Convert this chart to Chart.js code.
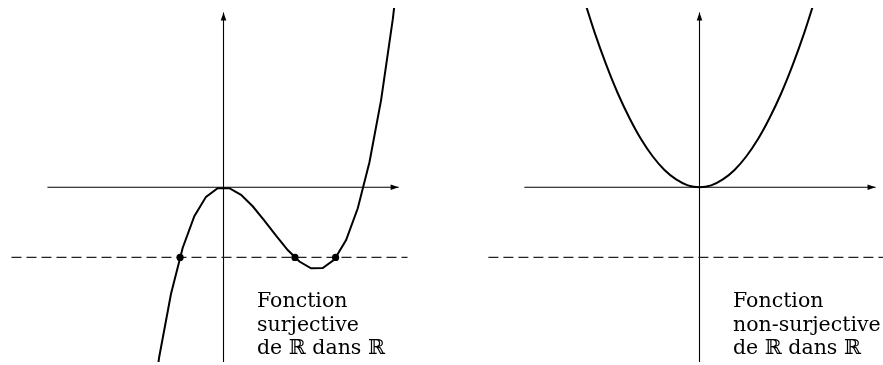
<!DOCTYPE html>
<html>
<head>
<meta charset="utf-8">
<script src="https://cdn.jsdelivr.net/npm/chart.js@4.4.0/dist/chart.umd.min.js"></script>
<style>
  body { margin: 0; background: #fff; width: 883px; height: 365px; overflow: hidden; position: relative; }
  canvas { position: absolute; top: 0; }
  #left { left: 0; }
  #right { left: 441px; }
  .lbl { position: absolute; font-family: "DejaVu Serif", serif; font-size: 20.5px; line-height: 23.5px; color: #000; white-space: nowrap; }
</style>
</head>
<body>
<canvas id="left" width="441" height="365"></canvas>
<canvas id="right" width="442" height="365"></canvas>
<div class="lbl" style="left:257px; top:289px">Fonction<br>surjective<br>de ℝ dans ℝ</div>
<div class="lbl" style="left:733px; top:289px">Fonction<br>non-surjective<br>de ℝ dans ℝ</div>
<script>
// cubic (left panel)
const cubicX = [-1.625, -1.375, -1.125, -0.875, -0.625, -0.375, -0.125, 0.125, 0.375, 0.625, 0.875, 1.125,
                1.375, 1.625, 1.875, 2.125, 2.375, 2.625, 2.875, 3.125, 3.375, 3.625, 3.875];
const cubicY = [-12.21, -8.27, -5.22, -2.97, -1.42, -0.47, -0.05, -0.05, -0.37, -0.93, -1.63, -2.37,
                -3.07, -3.63, -3.96, -3.95, -3.53, -2.58, -1.03, 1.22, 4.27, 8.21, 13.14];
const levelY = -3.43;
const dotX = [-0.93, 1.53, 2.40];

// parabola (right panel)
const paraX = [-2.5, -2.25, -2, -1.75, -1.5, -1.25, -1, -0.75, -0.5, -0.25, 0,
               0.25, 0.5, 0.75, 1, 1.25, 1.5, 1.75, 2, 2.25, 2.5];
const paraY = [9.38, 7.59, 6, 4.59, 3.38, 2.34, 1.5, 0.84, 0.38, 0.09, 0,
               0.09, 0.38, 0.84, 1.5, 2.34, 3.38, 4.59, 6, 7.59, 9.38];

const yMin = -8.54, yMax = 8.756;

function pts(xs, ys) {
    return xs.map((x, i) => ({ x: x, y: ys[i] }));
}

const arrowPlugin = {
    id: 'arrows',
    afterDatasetsDraw(chart) {
        const ctx = chart.ctx;
        chart.data.datasets.forEach((ds, i) => {
            if (!ds.arrow) return;
            const el = chart.getDatasetMeta(i).data;
            const a = el[el.length - 2], b = el[el.length - 1];
            const ang = Math.atan2(b.y - a.y, b.x - a.x);
            ctx.save();
            ctx.translate(b.x, b.y);
            ctx.rotate(ang);
            ctx.beginPath();
            ctx.moveTo(0, 0);
            ctx.lineTo(-8, -2.8);
            ctx.lineTo(-8, 2.8);
            ctx.closePath();
            ctx.fillStyle = '#000';
            ctx.fill();
            ctx.restore();
        });
    }
};

function axes(x0, x1) {
    return [
        { data: [{ x: x0, y: 0 }, { x: x1, y: 0 }], showLine: true, borderColor: '#000', borderWidth: 1.1, pointRadius: 0, arrow: true, order: 4 },
        { data: [{ x: 0, y: yMin }, { x: 0, y: 8.54 }], showLine: true, borderColor: '#000', borderWidth: 1.1, pointRadius: 0, arrow: true, order: 4 }
    ];
}

function dashed(x0, x1) {
    return { data: [{ x: x0, y: levelY }, { x: x1, y: levelY }], showLine: true, borderColor: '#222', borderWidth: 1.3,
             borderDash: [10, 5], pointRadius: 0, order: 3 };
}

function baseOptions(xMin, xMax) {
    return {
        responsive: false,
        animation: false,
        events: [],
        layout: { autoPadding: false, padding: { top: 8, bottom: 3, left: 0, right: 0 } },
        plugins: { legend: { display: false }, tooltip: { enabled: false } },
        scales: {
            x: { type: 'linear', min: xMin, max: xMax, display: false },
            y: { type: 'linear', min: yMin, max: yMax, display: false }
        }
    };
}

new Chart(document.getElementById('left'), {
    type: 'scatter',
    data: {
        datasets: [
            ...axes(-3.77, 3.75),
            dashed(-4.54, 3.94),
            { data: pts(cubicX, cubicY), showLine: true, borderColor: '#000', borderWidth: 2, pointRadius: 0, order: 2 },
            { data: dotX.map(x => ({ x: x, y: levelY })), showLine: false, pointRadius: 3.6, borderWidth: 0, backgroundColor: '#000', order: 1 }
        ]
    },
    options: baseOptions(-4.786, 4.657),
    plugins: [arrowPlugin]
});

new Chart(document.getElementById('right'), {
    type: 'scatter',
    data: {
        datasets: [
            ...axes(-3.75, 3.77),
            dashed(-4.52, 3.95),
            { data: pts(paraX, paraY), showLine: true, borderColor: '#000', borderWidth: 2, pointRadius: 0, tension: 0.3, order: 2 }
        ]
    },
    options: baseOptions(-5.535, 3.929),
    plugins: [arrowPlugin]
});
</script>
</body>
</html>
